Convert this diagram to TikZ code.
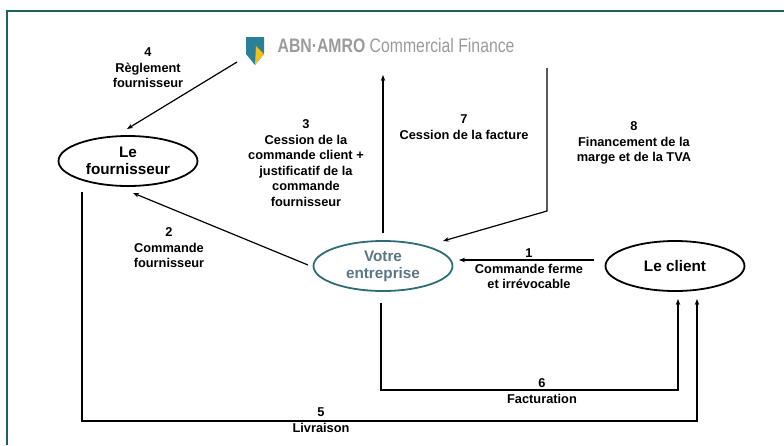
\documentclass[tikz,border=0pt]{standalone}
\usepackage{fontspec}
\setmainfont{Liberation Sans}
\usetikzlibrary{shapes.geometric,arrows.meta}
\definecolor{framec}{HTML}{1D6358}
\definecolor{entc}{HTML}{2E6C74}
\definecolor{enttxt}{HTML}{5C7784}
\definecolor{abnteal}{HTML}{2A8096}
\definecolor{abnyel}{HTML}{F2C119}
\definecolor{abngray}{HTML}{9B9B9B}
\begin{document}
\begin{tikzpicture}[x=1pt,y=-1pt,line width=1.2pt,
	ell/.style={draw,ellipse,line width=1.8pt,minimum width=139pt,minimum height=50pt,inner sep=0pt,align=center,font=\fontsize{15.3}{17}\selectfont\bfseries},
	lab/.style={align=center,font=\fontsize{12.8}{15.5}\selectfont\bfseries},
	arr/.style={-{Stealth[length=6pt,width=4.5pt]}}]
			\useasboundingbox (0,0) rectangle (784,445);
			\draw[framec,line width=2.5pt] (7,445) -- (7,11) -- (784,11);
			% logo
			\fill[abnteal] (246,37) -- (264,37) -- (264,54) -- (255,65) -- (246,54) -- cycle;
			\fill[abnyel] (256,46) -- (264,54) -- (255,65) -- cycle;
			\node[anchor=base west,inner sep=0pt,text=abngray] (abn) at (277,52) {\scalebox{0.81}[1]{\fontsize{19.5}{20}\selectfont\textbf{ABN·AMRO} Commercial Finance}};
			% acteurs
			\node[ell] (four) at (128,161) {Le\\fournisseur};
			\node[ell,draw=entc,text=enttxt] (ent) at (383,266) {Votre\\entreprise};
			\node[ell] (cli) at (675,266) {Le client};
			% extremites des fleches
			\coordinate (a4) at (237,62); \coordinate (b4) at (127,129);
			\coordinate (a3) at (383,233); \coordinate (b3) at (383,75);
			\coordinate (a8) at (547,68); \coordinate (m8) at (547,211); \coordinate (b8) at (443,241);
			\coordinate (a2) at (308,265); \coordinate (b2) at (133,193);
			\coordinate (a1) at (594,260); \coordinate (b1) at (459,260);
			\coordinate (a6) at (381,303); \coordinate (m6) at (381,390); \coordinate (b6) at (678,299);
			\coordinate (a5) at (82,192); \coordinate (m5) at (82,421); \coordinate (b5) at (697,299);
			\draw[arr] (a4) -- (b4);
			\draw[arr] (a3) -- (b3);
			\draw[arr] (a8) -- (m8) -- (b8);
			\draw[arr] (a2) -- (b2);
			\draw[arr] (a1) -- (b1);
			\draw[arr] (a6) -- (m6) -- (b6 |- m6) -- (b6);
			\draw[arr] (a5) -- (m5) -- (b5 |- m5) -- (b5);
			% etiquettes
			\node[lab] (t1) at (529,269) {1\\Commande ferme\\et irrévocable};
			\node[lab] (t2) at (169,248) {2\\Commande\\fournisseur};
			\node[lab] (t3) at (306,163) {3\\Cession de la\\commande client +\\justificatif de la\\commande\\fournisseur};
			\node[lab] (t4) at (148,68) {4\\Règlement\\fournisseur};
			\node[lab] (t5) at (321,420) {5\\Livraison};
			\node[lab] (t6) at (542,391) {6\\Facturation};
			\node[lab] (t7) at (464,127) {7\\Cession de la facture};
			\node[lab] (t8) at (634,143) {8\\Financement de la\\marge et de la TVA};
			\end{tikzpicture}
\end{document}
